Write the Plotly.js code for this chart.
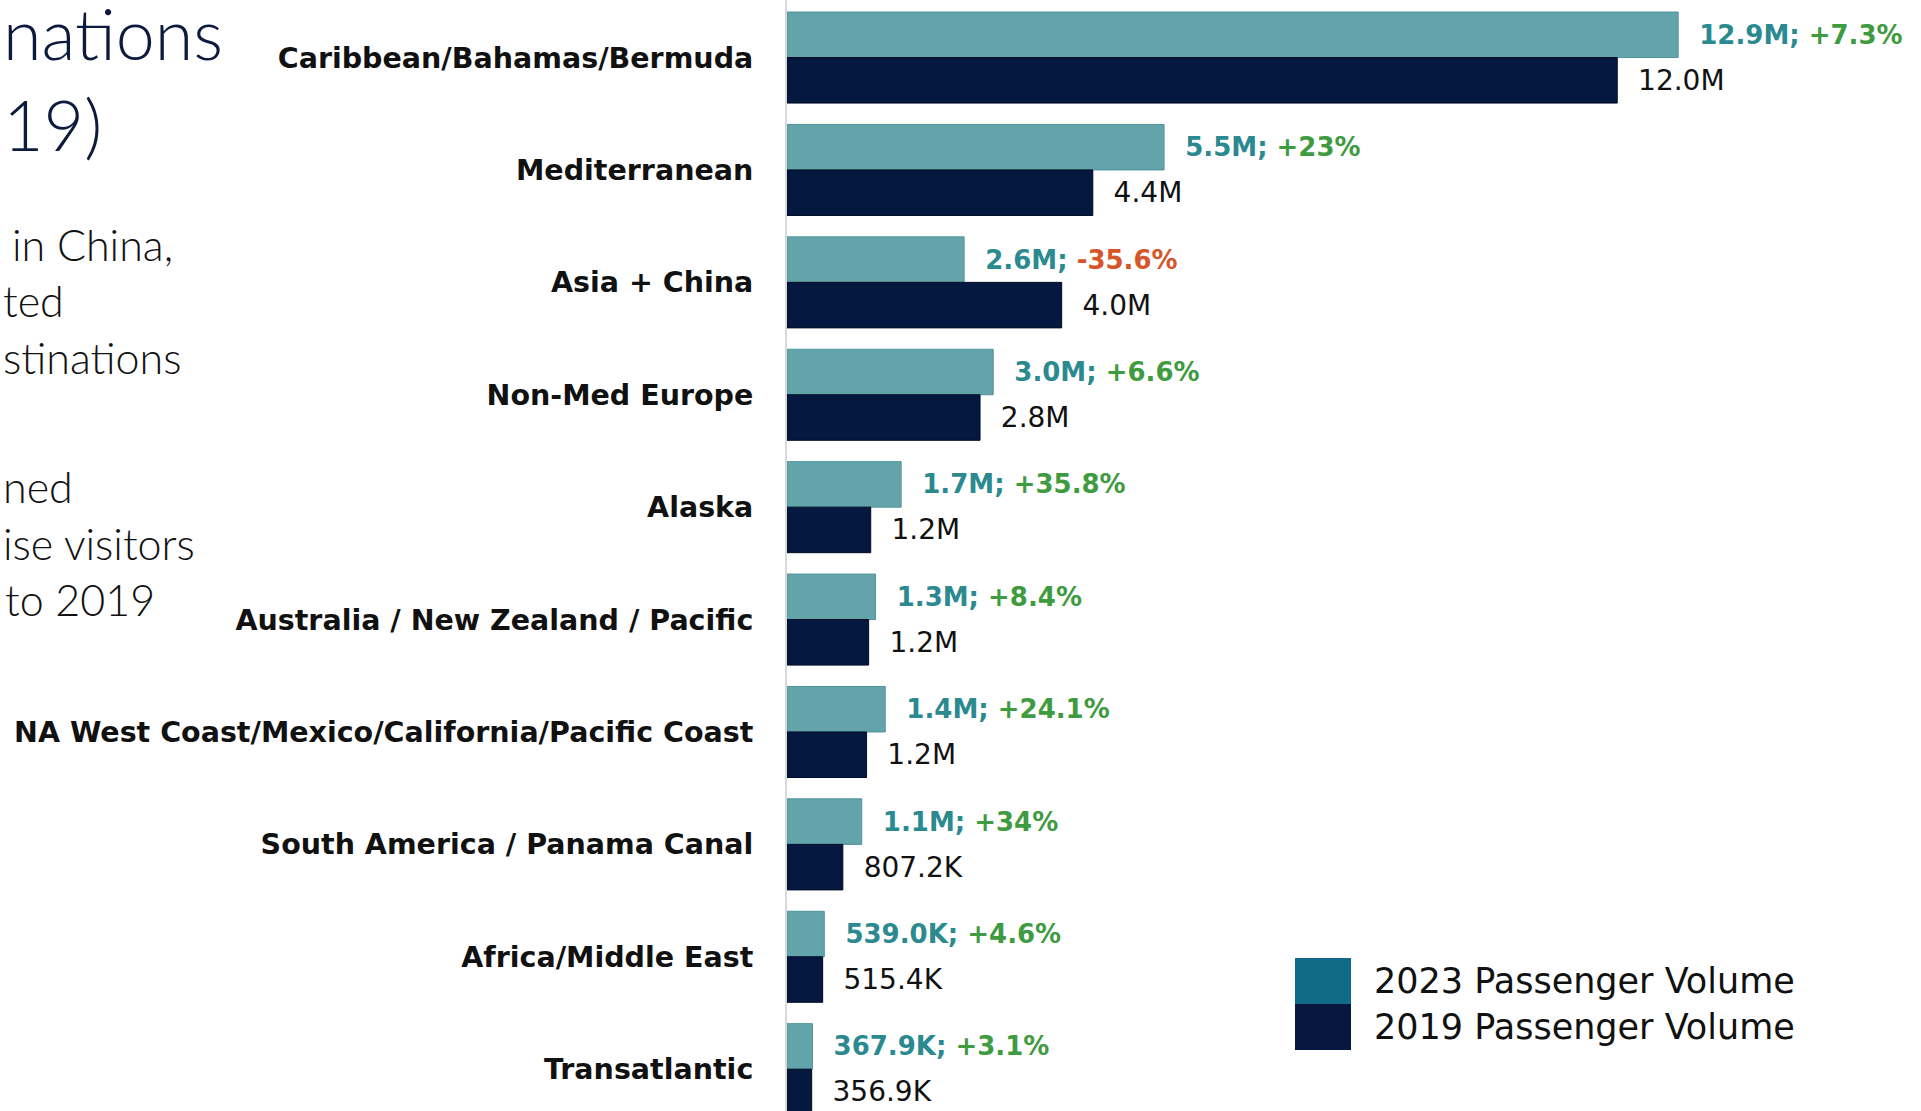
<!DOCTYPE html>
<html>
<head>
<meta charset="utf-8">
<script src="https://cdn.plot.ly/plotly-3.0.1.min.js"></script>
<style>html,body{margin:0;padding:0;background:#fff;}#chart{width:1921px;height:1111px;}</style>
</head>
<body>
<div id="chart"></div>
<script>
// ---- data ----
const categories = ['Caribbean/Bahamas/Bermuda','Mediterranean','Asia + China','Non-Med Europe','Alaska',
  'Australia / New Zealand / Pacific','NA West Coast/Mexico/California/Pacific Coast',
  'South America / Panama Canal','Africa/Middle East','Transatlantic'];
const pax2023 = [12.88, 5.45, 2.56, 2.98, 1.65, 1.28, 1.42, 1.08, 0.539, 0.3679];
const pax2019 = [12.0, 4.42, 3.97, 2.79, 1.21, 1.18, 1.15, 0.8072, 0.5154, 0.3569];
const labels2023 = ['12.9M','5.5M','2.6M','3.0M','1.7M','1.3M','1.4M','1.1M','539.0K','367.9K'];
const changes = ['+7.3%','+23%','-35.6%','+6.6%','+35.8%','+8.4%','+24.1%','+34%','+4.6%','+3.1%'];
const labels2019 = ['12.0M','4.4M','4.0M','2.8M','1.2M','1.2M','1.2M','807.2K','515.4K','356.9K'];
const seriesNames = ['2023 Passenger Volume','2019 Passenger Volume'];
const titleLines = ['nations','19)'];
const bodyLines = ['in China,','ted','stinations','ned','ise visitors','to 2019'];

// ---- styling ----
const W = 1921, H = 1111, L = 787;
const px = x => (x - L) / (W - L);
const py = y => 1 - y / H;
const NB = '\u00a0\u00a0';
const teal = '#2b8a90', green = '#3f9b3f', red = '#d6562a';

const text2023 = labels2023.map((v, i) =>
  NB + '<span style="color:' + teal + '">' + v + ';</span> <span style="color:' +
  (changes[i].startsWith('-') ? red : green) + '">' + changes[i] + '</span>');
const text2019 = labels2019.map(v => NB + v);

const traces = [
  {type:'bar', orientation:'h', name:seriesNames[0], y:categories, x:pax2023,
   marker:{color:'#63a4ab', line:{color:'#4f959c', width:1}},
   text:text2023, textposition:'outside', cliponaxis:false, constraintext:'none',
   textfont:{family:'DejaVu Sans', size:26, weight:'bold', color:teal},
   hoverinfo:'skip', showlegend:false},
  {type:'bar', orientation:'h', name:seriesNames[1], y:categories, x:pax2019,
   marker:{color:'#051840', line:{color:'#020c24', width:1}},
   text:text2019, textposition:'outside', cliponaxis:false, constraintext:'none',
   textfont:{family:'DejaVu Sans', size:28, color:'#111111'},
   hoverinfo:'skip', showlegend:false}
];

const ann = [];
const titleFont = {family:'Lato', size:70, weight:300, color:'#0b1a3d'};
ann.push({xref:'paper', yref:'paper', x:px(1), y:py(33), xanchor:'left', yanchor:'middle',
  text:titleLines[0], showarrow:false, font:titleFont});
ann.push({xref:'paper', yref:'paper', x:px(1), y:py(124), xanchor:'left', yanchor:'middle',
  text:titleLines[1], showarrow:false, font:titleFont});
const bodyPos = [[10,245],[1,301],[1,357],[1,486],[1,543],[3,599]];
bodyLines.forEach((t, i) => ann.push({xref:'paper', yref:'paper', x:px(bodyPos[i][0]), y:py(bodyPos[i][1]),
  xanchor:'left', yanchor:'middle', text:t, showarrow:false,
  font:{family:'Lato', size:43, weight:300, color:'#111111'}}));
// legend
const legColors = ['#116b88','#06183f'];
const shapes = [];
[[958,1004],[1004,1050]].forEach((r, i) => {
  shapes.push({type:'rect', xref:'paper', yref:'paper', x0:px(1295), x1:px(1351), y0:py(r[1]), y1:py(r[0]),
    fillcolor:legColors[i], line:{width:0}});
  ann.push({xref:'paper', yref:'paper', x:px(1372), y:py((r[0]+r[1])/2), xanchor:'left', yanchor:'middle',
    text:seriesNames[i], showarrow:false, font:{family:'DejaVu Sans', size:35, color:'#111111'}});
});

const layout = {
  width:W, height:H, margin:{l:L, r:0, t:0, b:0},
  paper_bgcolor:'#ffffff', plot_bgcolor:'#ffffff',
  barmode:'group', bargap:0.19, bargroupgap:0,
  showlegend:false,
  xaxis:{range:[0,16.39], visible:false, fixedrange:true},
  yaxis:{type:'category', range:[9.372,-0.512], showline:true, linecolor:'#d9d9d9', linewidth:2,
    showgrid:false, zeroline:false, ticks:'outside', ticklen:26, tickcolor:'rgba(0,0,0,0)',
    tickfont:{family:'DejaVu Sans', size:28.5, weight:'bold', color:'#111111'}, automargin:false, fixedrange:true},
  annotations:ann, shapes:shapes
};
Plotly.newPlot('chart', traces, layout, {displayModeBar:false, staticPlot:true});
</script>
</body>
</html>
